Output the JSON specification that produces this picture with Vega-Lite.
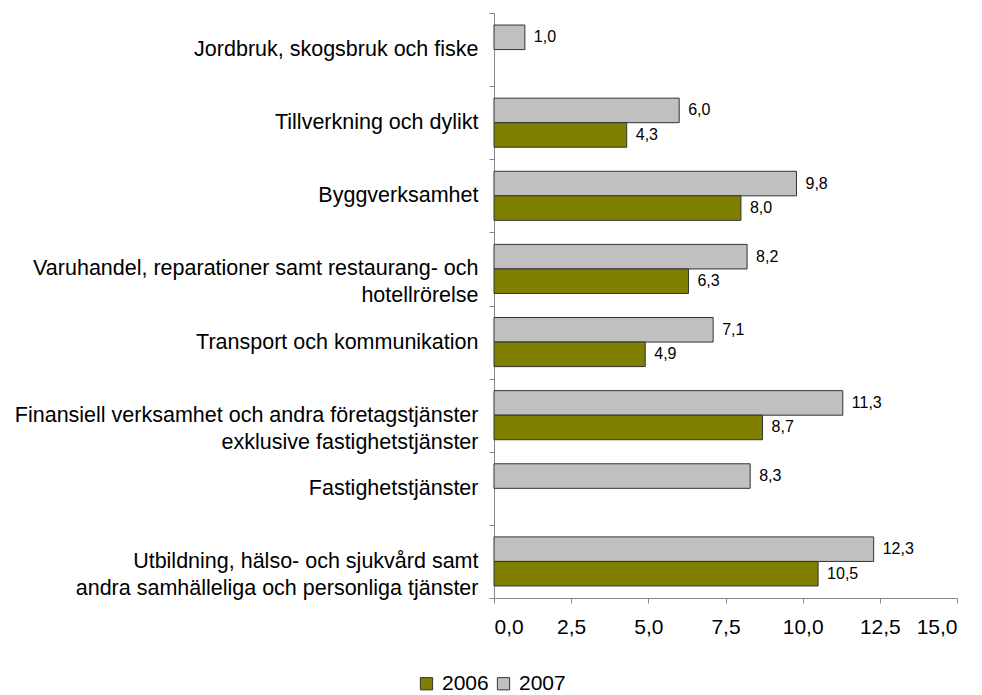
{
  "$schema": "https://vega.github.io/schema/vega-lite/v6.json",
  "width": 463,
  "height": 585,
  "autosize": {"type": "none"},
  "padding": {"left": 494, "top": 13, "right": 25, "bottom": 97},
  "background": "white",
  "config": {
    "locale": {"number": {"decimal": ",", "thousands": " ", "grouping": [3], "currency": ["", " kr"]}},
    "font": "Liberation Sans",
    "view": {"stroke": null},
    "axis": {"domainColor": "#868686", "tickColor": "#868686", "labelColor": "#000", "labelFont": "Liberation Sans", "grid": false}
  },
  "data": {
    "values": [
      {"cat": "Jordbruk, skogsbruk och fiske", "year": "2007", "value": 1.0},
      {"cat": "Tillverkning och dylikt", "year": "2007", "value": 6.0},
      {"cat": "Tillverkning och dylikt", "year": "2006", "value": 4.3},
      {"cat": "Byggverksamhet", "year": "2007", "value": 9.8},
      {"cat": "Byggverksamhet", "year": "2006", "value": 8.0},
      {"cat": "Varuhandel, reparationer samt restaurang- och|hotellrörelse", "year": "2007", "value": 8.2},
      {"cat": "Varuhandel, reparationer samt restaurang- och|hotellrörelse", "year": "2006", "value": 6.3},
      {"cat": "Transport och kommunikation", "year": "2007", "value": 7.1},
      {"cat": "Transport och kommunikation", "year": "2006", "value": 4.9},
      {"cat": "Finansiell verksamhet och andra företagstjänster|exklusive fastighetstjänster", "year": "2007", "value": 11.3},
      {"cat": "Finansiell verksamhet och andra företagstjänster|exklusive fastighetstjänster", "year": "2006", "value": 8.7},
      {"cat": "Fastighetstjänster", "year": "2007", "value": 8.3},
      {"cat": "Utbildning, hälso- och sjukvård samt|andra samhälleliga och personliga tjänster", "year": "2007", "value": 12.3},
      {"cat": "Utbildning, hälso- och sjukvård samt|andra samhälleliga och personliga tjänster", "year": "2006", "value": 10.5}
    ]
  },
  "encoding": {
    "y": {
      "field": "cat", "type": "nominal", "sort": null,
      "scale": {"paddingInner": 0, "paddingOuter": 0},
      "axis": {
        "title": null, "labelFontSize": 21.5, "labelLimit": 0, "tickBand": "extent",
        "tickSize": 5, "labelPadding": 11, "labelLineHeight": 27,
        "labelExpr": "indexof(datum.label, '|') < 0 ? datum.label : indexof(datum.label, 'Varuhandel') >= 0 ? [split(datum.label, '|')[0], split(datum.label, '|')[1] + pad('', 28, '\u00a0')] : indexof(datum.label, 'Finansiell') >= 0 ? [split(datum.label, '|')[0], split(datum.label, '|')[1] + pad('', 18, '\u00a0')] : [split(datum.label, '|')[0] + pad('', 5, '\u00a0'), split(datum.label, '|')[1]]"
      }
    },
    "yOffset": {
      "field": "year", "type": "nominal", "sort": ["2007", "2006"],
      "scale": {"domain": ["2007", "2006"], "paddingInner": 0, "paddingOuter": 0.49}
    },
    "x": {
      "field": "value", "type": "quantitative",
      "scale": {"domain": [0, 15], "nice": false},
      "axis": {
        "title": null, "values": [0, 2.5, 5, 7.5, 10, 12.5, 15], "format": ".1f",
        "labelFontSize": 21, "tickSize": 5, "labelPadding": 13
      }
    }
  },
  "layer": [
    {
      "mark": {"type": "bar", "stroke": "#333333", "strokeWidth": 1},
      "encoding": {
        "color": {
          "field": "year", "type": "nominal",
          "scale": {"domain": ["2006", "2007"], "range": ["#808000", "#C0C0C0"]},
          "legend": {
            "title": null, "orient": "none", "direction": "horizontal",
            "legendX": -78, "legendY": 660,
            "symbolType": "square", "symbolSize": 150, "symbolStrokeColor": "#333333", "symbolStrokeWidth": 1,
            "labelFontSize": 21, "labelFont": "Liberation Sans", "labelColor": "#000",
            "columnPadding": 4, "labelOffset": 5
          }
        }
      }
    },
    {
      "mark": {"type": "text", "align": "left", "baseline": "middle", "dx": 9, "fontSize": 16, "color": "#000"},
      "encoding": {
        "text": {"field": "value", "type": "quantitative", "format": ".1f"}
      }
    }
  ]
}
